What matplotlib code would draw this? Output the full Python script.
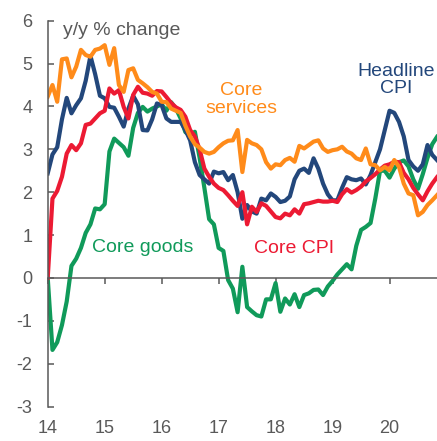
import numpy as np
import matplotlib
matplotlib.use("Agg")
import matplotlib.pyplot as plt

plt.rcParams['font.family'] = ['Liberation Sans', 'DejaVu Sans']
plt.rcParams['axes.unicode_minus'] = False

# monthly y/y % change, Jan 2014 onwards
start_year = 14
headline_cpi = [2.44, 2.88, 3.05, 3.7, 4.2, 3.84, 4.03, 4.19, 4.6, 5.18, 4.75, 4.25,
                4.19, 3.99, 3.97, 3.76, 3.53, 3.95, 4.25, 4.05, 3.45, 3.44, 3.7, 4.07,
                4.03, 3.72, 3.64, 3.64, 3.64, 3.45, 3.21, 2.7, 2.4, 2.3, 2.2, 2.48,
                2.44, 2.47, 2.28, 2.4, 2.0, 1.38, 1.7, 1.55, 1.5, 1.85, 1.81, 1.97,
                1.89, 1.77, 1.8, 1.9, 2.3, 2.5, 2.55, 2.45, 2.79, 2.55, 2.2, 1.95,
                1.81, 1.81, 2.1, 2.35, 2.3, 2.28, 2.32, 2.18, 2.4, 2.7, 3.0, 3.45,
                3.9, 3.85, 3.64, 3.3, 2.75, 2.6, 2.5, 2.65, 3.1, 2.87, 2.75]
core_services = [4.23, 4.5, 4.11, 5.1, 5.12, 4.68, 4.93, 5.32, 5.2, 5.16, 5.32, 5.35,
                 5.43, 4.97, 5.36, 4.5, 4.34, 4.85, 4.89, 4.62, 4.54, 4.45, 4.34, 4.3,
                 4.11, 4.1, 3.95, 3.9, 3.85, 3.55, 3.3, 3.12, 3.04, 2.94, 2.9, 2.94,
                 3.05, 3.14, 3.2, 3.21, 3.45, 2.47, 3.22, 3.14, 3.1, 3.0, 2.7, 2.55,
                 2.65, 2.63, 2.75, 2.8, 2.71, 3.08, 3.02, 3.1, 3.18, 3.21, 3.02, 2.94,
                 2.98, 3.0, 3.06, 2.95, 2.9, 2.79, 2.75, 3.02, 2.65, 2.63, 2.51, 2.59,
                 2.51, 2.75, 2.59, 2.2, 1.97, 1.93, 1.46, 1.54, 1.7, 1.81, 1.93]
core_cpi = [0.0, 1.85, 2.03, 2.36, 2.9, 3.1, 2.98, 3.14, 3.57, 3.6, 3.72, 3.84,
            3.9, 4.42, 4.3, 4.38, 3.99, 3.72, 4.27, 4.46, 4.32, 4.3, 4.25, 4.36,
            4.35, 4.22, 4.08, 3.98, 3.92, 3.76, 3.45, 3.3, 3.0, 2.55, 2.36, 2.2,
            2.1, 2.05, 1.93, 1.8, 1.68, 2.0, 1.25, 1.66, 1.54, 1.74, 1.68, 1.55,
            1.42, 1.39, 1.5, 1.46, 1.6, 1.5, 1.72, 1.74, 1.77, 1.8, 1.78, 1.78,
            1.8, 1.77, 1.95, 2.07, 1.99, 2.05, 2.13, 2.25, 2.33, 2.42, 2.53, 2.62,
            2.65, 2.71, 2.7, 2.45, 2.3, 2.1, 1.95, 1.81, 2.02, 2.2, 2.35]
core_goods = [0.0, -1.68, -1.5, -1.1, -0.55, 0.28, 0.45, 0.7, 1.05, 1.25, 1.62, 1.6,
              1.72, 2.95, 3.25, 3.15, 3.05, 2.85, 3.5, 3.85, 3.99, 3.88, 3.95, 4.0,
              4.05, 3.9, 4.1, 3.95, 3.72, 3.4, 3.33, 3.41, 2.8, 2.1, 1.37, 1.25,
              0.7, 0.63, -0.05, -0.25, -0.8, 0.26, -0.68, -0.78, -0.87, -0.9, -0.5, -0.5,
              -0.12, -0.79, -0.48, -0.62, -0.38, -0.68, -0.4, -0.36, -0.28, -0.27, -0.4, -0.2,
              -0.07, 0.08, 0.2, 0.32, 0.2, 0.75, 1.12, 1.19, 1.28, 1.85, 2.5, 2.5,
              2.34, 2.55, 2.7, 2.74, 2.6, 2.3, 2.08, 2.42, 2.8, 3.12, 3.29]
year_ticks = [14, 15, 16, 17, 18, 19, 20]

BLUE = '#23477b'
ORANGE = '#ff8b1a'
RED = '#ec1a33'
GREEN = '#109a5a'
GREY = '#595959'

x = start_year + np.arange(len(headline_cpi)) / 12

fig = plt.figure(figsize=(4.37, 4.41), dpi=100)
ax = fig.add_axes([0.1092, 0.0782, 0.8908, 0.8748])

lw = 3.0
ax.plot(x, core_goods, color=GREEN, lw=lw, solid_joinstyle='round')
ax.plot(x, headline_cpi, color=BLUE, lw=lw, solid_joinstyle='round')
ax.plot(x, core_cpi, color=RED, lw=lw, solid_joinstyle='round')
ax.plot(x, core_services, color=ORANGE, lw=lw, solid_joinstyle='round')

ax.set_xlim(start_year, x[-1])
ax.set_ylim(-3, 6)

for s in ['top', 'right']:
    ax.spines[s].set_visible(False)
ax.spines['left'].set_color(GREY)
ax.spines['left'].set_linewidth(1.1)
ax.spines['bottom'].set_position(('data', 0))
ax.spines['bottom'].set_color(GREY)
ax.spines['bottom'].set_linewidth(1.1)

ax.set_yticks(range(-3, 7))
ax.tick_params(axis='y', direction='in', length=4, width=1.1, color=GREY,
               labelcolor=GREY, labelsize=13, pad=11)
ax.set_xticks(year_ticks)
ax.tick_params(axis='x', direction='out', length=4, width=1.1, color=GREY,
               labelbottom=False)

# year labels along the bottom edge
sec = ax.secondary_xaxis('bottom')
sec.set_xticks(year_ticks)
sec.set_xticklabels([str(y) for y in year_ticks])
sec.tick_params(length=0, pad=10, labelsize=13, labelcolor=GREY)
sec.spines['bottom'].set_visible(False)

fs = 14
ax.text(14.26, 5.78, 'y/y % change', color=GREY, fontsize=fs, ha='left', va='center')
ax.text(17.40, 4.16, 'Core\nservices', color=ORANGE, fontsize=fs, ha='center',
        va='center', linespacing=1.05)
ax.text(20.12, 4.62, 'Headline\nCPI', color=BLUE, fontsize=fs, ha='center',
        va='center', linespacing=1.05)
ax.text(15.67, 0.70, 'Core goods', color=GREEN, fontsize=fs, ha='center', va='center')
ax.text(18.33, 0.69, 'Core CPI', color=RED, fontsize=fs, ha='center', va='center')

fig.savefig('out.png', dpi=100)
